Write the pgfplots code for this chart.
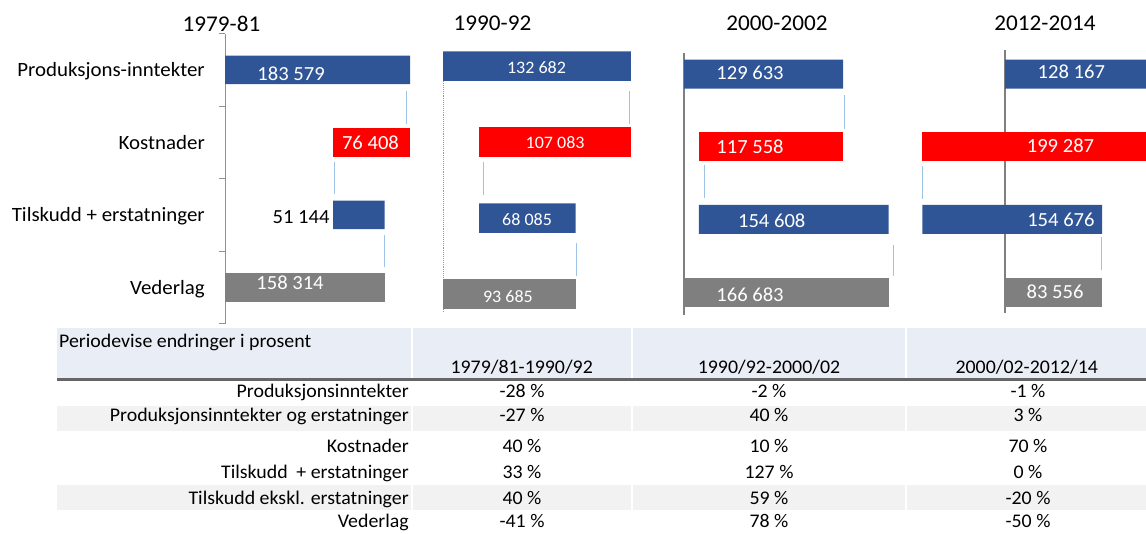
\documentclass[border=0pt]{standalone}
\usepackage{pgfplots}
\pgfplotsset{compat=1.18}
\usepackage{fontspec}
\setmainfont{Carlito}[FakeStretch=1.03]
\definecolor{barblue}{HTML}{2F5597}
\definecolor{barred}{HTML}{FF0000}
\definecolor{bargray}{HTML}{7F7F7F}
\definecolor{connblue}{HTML}{9DC3E6}
\definecolor{axgray}{HTML}{7F7F7F}
\definecolor{hdrbg}{HTML}{E9EDF5}
\definecolor{rowbg}{HTML}{F2F2F2}
\pgfplotsset{
  wf/.style={scale only axis, hide axis, y dir=reverse, ymin=-0.5, ymax=3.5, anchor=north west},
  bars/.style={xbar stacked, bar width=#1},
  p1/.style={wf, at={(225pt,-33.5pt)}, width=191.52pt, height=290pt, xmin=0, xmax=190000},
  p2/.style={wf, at={(443pt,-28pt)}, width=198.1pt, height=304pt, xmin=0, xmax=140000},
  p3/.style={wf, at={(684pt,-37.65pt)}, width=245.4pt, height=290.8pt, xmin=0, xmax=200000},
  % panel 4: x shifted by +80000 so that the stack starts at 0 (zero line at 80000)
  p4/.style={wf, at={(911.96pt,-37.65pt)}, width=234.04pt, height=290.8pt, xmin=0, xmax=201240},
  connline/.style={draw=connblue, line width=1pt, unbounded coords=jump},
}
\tikzset{
  vlab/.style={font=\fontsize{20}{24}\selectfont, text=white, inner sep=0pt},
  vlabs/.style={font=\fontsize{17.5}{21}\selectfont, text=white, inner sep=0pt},
  ttl/.style={font=\fontsize{22.5}{27}\selectfont, inner sep=0pt},
  cat/.style={font=\fontsize{20.3}{24}\selectfont, inner sep=0pt, anchor=base east},
  tb/.style={font=\fontsize{19.3}{23}\selectfont, inner sep=0pt},
}
\begin{document}
\begin{tikzpicture}
\useasboundingbox (0pt,0pt) rectangle (1146pt,-533pt);
% ---------------- Panel 1: 1979-81
\begin{axis}[p1, clip=false]
\addplot[connline] coordinates {(180300,0.29) (180300,0.75) (nan,nan) (109100,1.27) (109100,1.71) (nan,nan) (158700,2.28) (158700,2.72)};
\addplot[draw=axgray!85, line width=1pt] coordinates {(0,-0.5) (0,3.5)};
\addplot[draw=axgray!85, line width=1pt, unbounded coords=jump] coordinates {(-5950,-0.5) (0,-0.5) (nan,nan) (-5950,0.5) (0,0.5) (nan,nan) (-5950,1.5) (0,1.5) (nan,nan) (-5950,2.5) (0,2.5) (nan,nan) (-5950,3.5) (0,3.5)};
\end{axis}
\begin{axis}[p1, bars=28.5pt]
\addplot[draw=none, fill=none] coordinates {(0,0) (107171,1) (107171,2) (0,3)};
\addplot[draw=none, fill=barblue] coordinates {(183579,0) (0,1) (51144,2) (0,3)};
\addplot[draw=none, fill=barred] coordinates {(0,0) (76408,1) (0,2) (0,3)};
\addplot[draw=none, fill=bargray] coordinates {(0,0) (0,1) (0,2) (158314,3)};
\end{axis}
\begin{axis}[p1, clip=false]
\node[vlab] at (axis cs:65500,0.06) {183 579};
\node[vlab] at (axis cs:144300,1.01) {76 408};
\node[vlab, text=black] at (axis cs:75400,2.03) {51 144};
\node[vlab] at (axis cs:64500,2.94) {158 314};
\end{axis}
% ---------------- Panel 2: 1990-92
\begin{axis}[p2, clip=false]
\addplot[connline] coordinates {(131700,0.33) (131700,0.76) (nan,nan) (28500,1.26) (28500,1.70) (nan,nan) (94500,2.33) (94500,2.76)};
\addplot[draw=axgray!80, line width=0.9pt, densely dotted] coordinates {(0,0.2) (0,3.25)};
\end{axis}
\begin{axis}[p2, bars=29.5pt]
\addplot[draw=none, fill=none] coordinates {(0,0) (25599,1) (25599,2) (0,3)};
\addplot[draw=none, fill=barblue] coordinates {(132682,0) (0,1) (68085,2) (0,3)};
\addplot[draw=none, fill=barred] coordinates {(0,0) (107083,1) (0,2) (0,3)};
\addplot[draw=none, fill=bargray] coordinates {(0,0) (0,1) (0,2) (93685,3)};
\end{axis}
\begin{axis}[p2, clip=false]
\node[vlabs] at (axis cs:66100,0.02) {132 682};
\node[vlabs] at (axis cs:79200,1.01) {107 083};
\node[vlabs] at (axis cs:59400,2.02) {68 085};
\node[vlabs] at (axis cs:45900,3.03) {93 685};
\end{axis}
% ---------------- Panel 3: 2000-2002
\begin{axis}[p3, clip=false]
\addplot[connline] coordinates {(131200,0.29) (131200,0.75) (nan,nan) (17100,1.25) (17100,1.71) (nan,nan) (171100,2.35) (171100,2.78)};
\addplot[draw=axgray, line width=1.2pt] coordinates {(0,-0.29) (0,3.31)};
\end{axis}
\begin{axis}[p3, bars=29pt]
\addplot[draw=none, fill=none] coordinates {(0,0) (12075,1) (12075,2) (0,3)};
\addplot[draw=none, fill=barblue] coordinates {(129633,0) (0,1) (154608,2) (0,3)};
\addplot[draw=none, fill=barred] coordinates {(0,0) (117558,1) (0,2) (0,3)};
\addplot[draw=none, fill=bargray] coordinates {(0,0) (0,1) (0,2) (166683,3)};
\end{axis}
\begin{axis}[p3, clip=false]
\node[vlab] at (axis cs:53800,-0.02) {129 633};
\node[vlab] at (axis cs:53800,1.0) {117 558};
\node[vlab] at (axis cs:71500,2.02) {154 608};
\node[vlab] at (axis cs:53800,3.03) {166 683};
\end{axis}
% ---------------- Panel 4: 2012-2014 (values shifted by +80000)
\begin{axis}[p4]
\addplot[connline] coordinates {(9200,1.26) (9200,1.72) (nan,nan) (163100,2.24) (163100,2.69)};
\addplot[draw=axgray, line width=1.2pt] coordinates {(80000,-0.33) (80000,3.29)};
\end{axis}
\begin{axis}[p4, bars=29pt]
\addplot[draw=none, fill=none] coordinates {(80000,0) (8880,1) (8880,2) (80000,3)};
\addplot[draw=none, fill=barblue] coordinates {(128167,0) (0,1) (154676,2) (0,3)};
\addplot[draw=none, fill=barred] coordinates {(0,0) (199287,1) (0,2) (0,3)};
\addplot[draw=none, fill=bargray] coordinates {(0,0) (0,1) (0,2) (83556,3)};
\end{axis}
\begin{axis}[p4]
\node[vlab] at (axis cs:137000,-0.03) {128 167};
\node[vlab] at (axis cs:127700,0.98) {199 287};
\node[vlab] at (axis cs:128100,2.0) {154 676};
\node[vlab] at (axis cs:123000,3.0) {83 556};
\end{axis}
% ---------------- titles and category labels
\begin{scope}[x=1pt, y=1pt]
\node[ttl] at (221.5,-23.5) {1979-81};
\node[ttl] at (492.5,-23.5) {1990-92};
\node[ttl] at (777,-23.5) {2000-2002};
\node[ttl] at (1045,-23.5) {2012-2014};
\node[cat] at (205,-76.7) {Produksjons-inntekter};
\node[cat] at (205,-149.2) {Kostnader};
\node[cat] at (205,-221.7) {Tilskudd + erstatninger};
\node[cat] at (205,-294.2) {Vederlag};
% ---------------- table
\fill[hdrbg] (57,-328) rectangle (1146,-378);
\fill[rowbg] (57,-406) rectangle (1146,-431);
\fill[rowbg] (57,-485) rectangle (1146,-510);
\foreach \xx in {411.7,631.7,906} {
  \draw[white, line width=1.8pt] (\xx,-328) -- (\xx,-378);
  \draw[white, line width=1.8pt] (\xx,-406) -- (\xx,-431);
  \draw[white, line width=1.8pt] (\xx,-485) -- (\xx,-510);
}
\draw[black!60, line width=2.6pt] (57,-379.5) -- (1146,-379.5);
\node[tb, anchor=base west] at (59,-347.7) {Periodevise endringer i prosent};
\node[tb, anchor=base] at (521.7,-373) {1979/81-1990/92};
\node[tb, anchor=base] at (769,-373) {1990/92-2000/02};
\node[tb, anchor=base] at (1026.7,-373) {2000/02-2012/14};
\foreach \yy/\lab/\a/\b/\c in {
  397.5/Produksjonsinntekter/-28 \%/-2 \%/-1 \%,
  421.5/Produksjonsinntekter og erstatninger/-27 \%/40 \%/3 \%,
  452/Kostnader/40 \%/10 \%/70 \%,
  478.5/Tilskudd\hspace{0.45em}+ erstatninger/33 \%/127 \%/0 \%,
  504/Tilskudd ekskl. erstatninger/40 \%/59 \%/-20 \%,
  527.5/Vederlag/-41 \%/78 \%/-50 \%} {
  \node[tb, anchor=base east] at (409,-\yy) {\lab};
  \node[tb, anchor=base] at (522,-\yy) {\a};
  \node[tb, anchor=base] at (769,-\yy) {\b};
  \node[tb, anchor=base] at (1028,-\yy) {\c};
}
\end{scope}
\end{tikzpicture}
\end{document}
